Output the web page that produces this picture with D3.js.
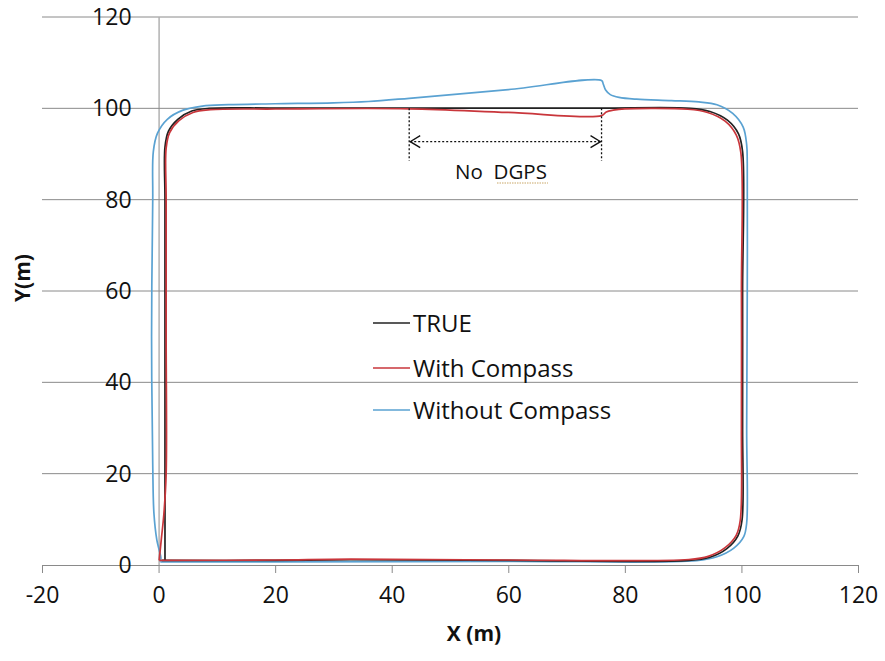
<!DOCTYPE html>
<html>
<head>
<meta charset="utf-8">
<script src="https://cdn.jsdelivr.net/npm/d3@7"></script>
<style>
  body { margin: 0; background: #fff; }
  svg { font-family: "Open Sans", sans-serif; }
</style>
</head>
<body>
<div id="chart"></div>
<script>
// series names and colours
var seriesNames = ["TRUE", "With Compass", "Without Compass"];
var seriesColors = ["#222222", "#c9363b", "#5aa2d2"];

// tick values
var xTicks = [-20, 0, 20, 40, 60, 80, 100, 120];
var yTicks = [0, 20, 40, 60, 80, 100, 120];

// trajectories [x, y] in metres (clockwise from bottom-left)
var truePath = [
  [1.1, 1.0], [1.1, 20], [1.1, 50], [1.1, 80], [1.1, 91.5], [1.7, 95.0], [3.3, 97.6],
  [5.7, 99.4], [8.7, 100], [20, 100.05], [40, 100.05], [60, 100.05], [76, 100.05],
  [91.2, 100], [94.6, 99.3], [97.6, 97.4], [99.5, 94.4], [100.2, 90.5], [100.2, 60],
  [100.2, 30], [100.1, 9.8], [99.4, 6.4], [97.5, 3.6], [94.6, 1.7], [91, 1.0],
  [60, 1.0], [33, 1.15], [20, 1.0], [0.6, 1.0]
];
var withCompass = [
  [0.1, 1.0], [0.5, 6], [0.9, 11], [1.3, 20], [1.3, 50], [1.3, 80], [1.3, 91.3],
  [1.9, 94.7], [3.5, 97.3], [5.9, 99.1], [8.9, 99.7], [20, 99.85], [43, 99.9],
  [60, 99.1], [76, 98.4], [76.8, 99.2], [78, 99.6], [80, 99.9], [90.8, 99.8],
  [94.2, 99.1], [97.2, 97.2], [99.1, 94.2], [99.9, 90.3], [100, 60], [100, 30],
  [99.8, 9.8], [99.1, 6.5], [97.2, 3.8], [94.3, 1.9], [91, 1.2], [60, 1.1],
  [33, 1.3], [20, 1.1], [0.1, 1.0]
];
var withoutCompass = [
  [0.3, 0.7], [0.4, 1.5], [-0.3, 5.5], [-0.8, 11.4], [-1.0, 22], [-1.2, 50], [-1.0, 80],
  [-0.9, 90.5], [-0.2, 94.5], [1.5, 97.6], [4.2, 99.6], [7.5, 100.5], [12, 100.8],
  [20, 101], [30, 101.2], [36, 101.5], [43, 102.2], [60, 104.1], [76, 106.1],
  [76.3, 105.3], [76.7, 104], [77.5, 103], [79, 102.4], [82, 102], [88, 101.7],
  [92.7, 101.4], [95.8, 100.8], [98.5, 98.9], [100.3, 95.9], [100.9, 92],
  [101, 88], [101, 60], [100.9, 30], [100.9, 9.2], [100.4, 6.2], [98.7, 3.7],
  [95.8, 1.8], [92.3, 0.95], [60, 0.8], [20, 0.7], [0.3, 0.7]
];

// no DGPS span (x from, x to) and arrow height
var noDgps = [43, 76];
var noDgpsArrowY = 92.7;
var noDgpsLineBottom = 88.5;

var width = 885, height = 661;
var svg = d3.select("#chart").append("svg")
  .attr("width", width).attr("height", height);

var x = d3.scaleLinear().domain([-20, 120]).range([42, 858]);
var y = d3.scaleLinear().domain([0, 120]).range([565, 17]);

var gridColor = "#8a8a8a";

// horizontal gridlines
svg.append("g").selectAll("line")
  .data(yTicks.filter(function(d) { return d > 0; }))
  .enter().append("line")
  .attr("x1", x(-20)).attr("x2", x(120))
  .attr("y1", function(d) { return y(d); })
  .attr("y2", function(d) { return y(d); })
  .attr("stroke", gridColor).attr("stroke-width", 1);

// x axis (at y=0), plain hyphen for negatives like Excel
var xAxis = svg.append("g")
  .attr("transform", "translate(0," + y(0) + ")")
  .call(d3.axisBottom(x).tickValues(xTicks).tickSize(8).tickPadding(14).tickSizeOuter(0)
    .tickFormat(function(d) { return String(d); }));
xAxis.select(".domain").attr("stroke", gridColor);
xAxis.selectAll(".tick line").attr("stroke", gridColor);
xAxis.selectAll("text").attr("font-size", 23).attr("fill", "#111")
  .attr("font-family", "Open Sans, sans-serif");

// y axis (at x=0)
var yAxis = svg.append("g")
  .attr("transform", "translate(" + x(0) + ",0)")
  .call(d3.axisLeft(y).tickValues(yTicks).tickSize(0).tickPadding(27).tickSizeOuter(0)
    .tickFormat(function(d) { return String(d); }));
yAxis.select(".domain").attr("stroke", gridColor);
yAxis.selectAll("text").attr("font-size", 23).attr("fill", "#111")
  .attr("font-family", "Open Sans, sans-serif");

// trajectories
var line = d3.line()
  .x(function(d) { return x(d[0]); })
  .y(function(d) { return y(d[1]); })
  .curve(d3.curveCatmullRom.alpha(0.5));

var paths = [truePath, withCompass, withoutCompass];
// blue first, then black, red on top
[2, 0, 1].forEach(function(i) {
  svg.append("path")
    .datum(paths[i])
    .attr("d", line)
    .attr("fill", "none")
    .attr("stroke", seriesColors[i])
    .attr("stroke-width", 1.7)
    .attr("stroke-linejoin", "round");
});

// No DGPS annotation
var ann = svg.append("g").attr("stroke", "#111").attr("stroke-width", 1.3);
noDgps.forEach(function(v) {
  ann.append("line")
    .attr("x1", x(v)).attr("x2", x(v))
    .attr("y1", y(100)).attr("y2", y(noDgpsLineBottom))
    .attr("stroke-dasharray", "2,2");
});
ann.append("line")
  .attr("x1", x(noDgps[0]) + 1).attr("x2", x(noDgps[1]) - 1)
  .attr("y1", y(noDgpsArrowY)).attr("y2", y(noDgpsArrowY))
  .attr("stroke-dasharray", "2,2");
var ay = y(noDgpsArrowY);
ann.append("path")
  .attr("d", "M" + (x(noDgps[0]) + 11) + "," + (ay - 6) + "L" + (x(noDgps[0]) + 1) + "," + ay +
    "L" + (x(noDgps[0]) + 11) + "," + (ay + 6))
  .attr("fill", "none");
ann.append("path")
  .attr("d", "M" + (x(noDgps[1]) - 11) + "," + (ay - 6) + "L" + (x(noDgps[1]) - 1) + "," + ay +
    "L" + (x(noDgps[1]) - 11) + "," + (ay + 6))
  .attr("fill", "none");

svg.append("text")
  .attr("x", 501)
  .attr("y", 179)
  .attr("text-anchor", "middle")
  .attr("font-size", 20.5)
  .attr("fill", "#111")
  .style("white-space", "pre")
  .text("No  DGPS");
// spell-check squiggle under DGPS
svg.append("line")
  .attr("x1", 497).attr("x2", 548).attr("y1", 183).attr("y2", 183)
  .attr("stroke", "#c9a869").attr("stroke-width", 1.2)
  .attr("stroke-dasharray", "1.5,1");

// legend
var legend = svg.append("g");
var legendY = [323, 368, 410];
seriesNames.forEach(function(name, i) {
  legend.append("line")
    .attr("x1", 373).attr("x2", 410)
    .attr("y1", legendY[i]).attr("y2", legendY[i])
    .attr("stroke", seriesColors[i]).attr("stroke-width", 1.6);
  legend.append("text")
    .attr("x", 413).attr("y", legendY[i])
    .attr("dy", "0.36em")
    .attr("font-size", 24)
    .attr("fill", "#111")
    .text(name);
});

// axis titles
svg.append("text")
  .attr("x", 474).attr("y", 641)
  .attr("text-anchor", "middle")
  .attr("font-size", 21).attr("font-weight", "bold").attr("fill", "#111")
  .text("X (m)");
svg.append("text")
  .attr("transform", "translate(30,278) rotate(-90)")
  .attr("text-anchor", "middle")
  .attr("font-size", 21).attr("font-weight", "bold").attr("fill", "#111")
  .text("Y(m)");
</script>
</body>
</html>
